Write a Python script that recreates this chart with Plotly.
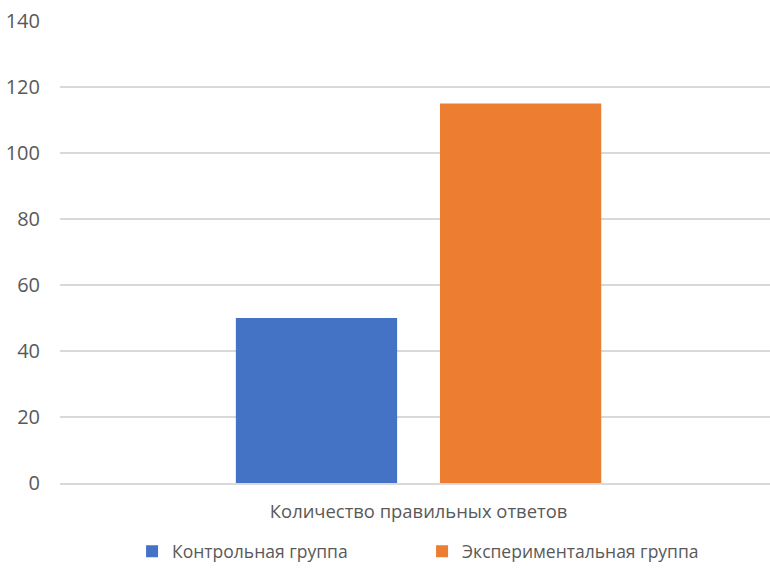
import plotly.graph_objects as go

categories = ["Количество правильных ответов"]
series_names = ["Контрольная группа", "Экспериментальная группа"]
series_values = [[50], [115]]
series_colors = ["#4472C4", "#ED7D31"]
y_ticks = [0, 20, 40, 60, 80, 100, 120, 140]

FONT = "Open Sans, Liberation Sans, sans-serif"
TEXT = "#595959"

fig = go.Figure()
for name, vals, color in zip(series_names, series_values, series_colors):
    fig.add_trace(go.Bar(x=categories, y=vals, name=name, marker_color=color,
                         marker_line_width=0))

fig.update_layout(
    width=770, height=570,
    margin=dict(l=60, r=0, t=21, b=87),
    paper_bgcolor="white", plot_bgcolor="white",
    barmode="group", bargap=0.425, bargroupgap=0.21,
    font=dict(family=FONT, size=18, color=TEXT),
    legend=dict(orientation="h", x=0.1015, xanchor="left", y=-0.148, yanchor="middle",
                font=dict(size=17.5, color=TEXT), entrywidth=245, entrywidthmode="pixels",
                tracegroupgap=0),
    xaxis=dict(range=[-0.505, 0.495], showgrid=False, showline=True, linecolor="#D9D9D9",
               linewidth=1.5, ticks="", tickfont=dict(size=18.4, color=TEXT),
               ticklabelstandoff=11),
    yaxis=dict(range=[0, 140], tickvals=y_ticks, showgrid=True, gridcolor="#D9D9D9",
               gridwidth=1.5, zeroline=False, showline=False, ticks="",
               tickfont=dict(size=20, color=TEXT), ticklabelstandoff=19),
)

fig.write_html("out.html")
